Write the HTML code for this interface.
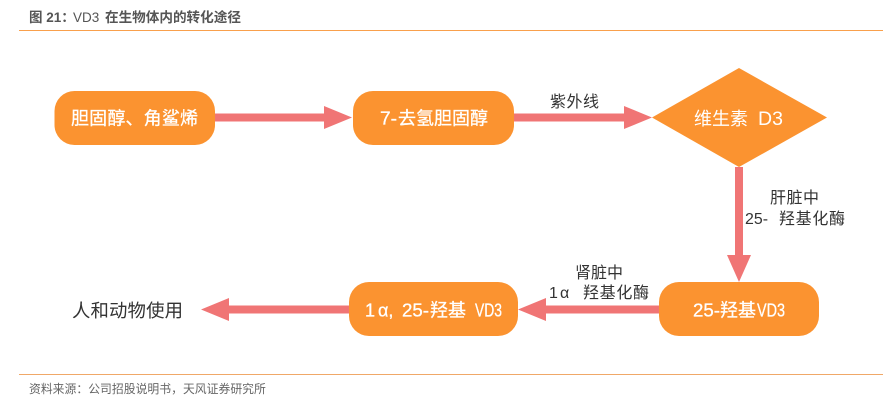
<!DOCTYPE html>
<html lang="zh">
<head>
<meta charset="utf-8">
<style>
html,body{margin:0;padding:0;background:#fff;}
body{width:894px;height:405px;overflow:hidden;position:relative;}
svg{position:absolute;left:0;top:0;}
text{font-family:"Liberation Sans","Noto Sans CJK SC",sans-serif;white-space:pre;}
.b text,.b{stroke:#fff;stroke-width:.3px;}
</style>
</head>
<body>
<svg width="894" height="405" viewBox="0 0 894 405" xmlns="http://www.w3.org/2000/svg">
<text x="29" y="22" font-size="13.5" font-weight="700" fill="#555">图 21：</text>
<text x="73" y="22" font-size="13.5" fill="#555">VD3</text>
<text x="105" y="22" font-size="13.6" font-weight="700" fill="#555">在生物体内的转化途径</text>
<rect x="19" y="30" width="864" height="1" fill="#f9a04c"/>

<!-- connectors -->
<g fill="#f07575">
<polygon points="215,113.5 324,113.5 324,106 352,117.5 324,129 324,121.5 215,121.5"/>
<polygon points="514,113.5 624,113.5 624,106 652,117.5 624,129 624,121.5 514,121.5"/>
<polygon points="735,167 743,167 743,255 751,255 739,282 727,255 735,255"/>
<polygon points="659,305.5 546,305.5 546,298 518,309.5 546,321 546,313.5 659,313.5"/>
<polygon points="349,305.5 229,305.5 229,298 201,309.5 229,321 229,313.5 349,313.5"/>
</g>

<!-- nodes -->
<g fill="#fb9330">
<rect x="54.5" y="91" width="160.5" height="54" rx="20" ry="20"/>
<rect x="353" y="91" width="161" height="54" rx="20" ry="20"/>
<polygon points="652,117.5 739,68 827,117.5 739,167"/>
<rect x="659" y="282" width="160" height="54" rx="20" ry="20"/>
<rect x="349" y="282" width="169" height="54" rx="20" ry="20"/>
</g>

<g class="b" fill="#fff" font-size="18">
<text x="71" y="124.5" textLength="127">胆固醇、角鲨烯</text>
<text x="380" y="124.5" textLength="17" lengthAdjust="spacingAndGlyphs">7-</text>
<text x="398" y="124.5">去氢胆固醇</text>
<text x="693" y="316.5" textLength="27" lengthAdjust="spacingAndGlyphs">25-</text>
<text x="720" y="316.5">羟基</text>
<text x="757" y="316.5" textLength="28" lengthAdjust="spacingAndGlyphs">VD3</text>
<text x="365" y="316.5">1</text>
<text x="378" y="316.5">α,</text>
<text x="402" y="316.5" textLength="27" lengthAdjust="spacingAndGlyphs">25-</text>
<text x="430" y="316.5">羟基</text>
<text x="475" y="316.5" textLength="27" lengthAdjust="spacingAndGlyphs">VD3</text>
</g>
<text x="694" y="125" font-size="18" fill="#fff">维生素</text>
<text x="758" y="125" font-size="19.5" fill="#fff">D3</text>

<g fill="#333" font-size="16">
<text x="550" y="107" textLength="49">紫外线</text>
<text x="770" y="203" textLength="49">肝脏中</text>
<text x="745" y="224" textLength="23" lengthAdjust="spacingAndGlyphs">25-</text>
<text x="779" y="224" textLength="66">羟基化酶</text>
<text x="575" y="278" textLength="48">肾脏中</text>
<text x="549" y="298">1</text>
<text x="560" y="298">α</text>
<text x="583" y="298" textLength="66">羟基化酶</text>
<text x="72" y="317" font-size="18.4" textLength="111">人和动物使用</text>
</g>

<rect x="19" y="374" width="864" height="1" fill="#f0a868"/>
<text x="29" y="393" font-size="11.85" fill="#666">资料来源：公司招股说明书，天风证券研究所</text>
</svg>
</body>
</html>
